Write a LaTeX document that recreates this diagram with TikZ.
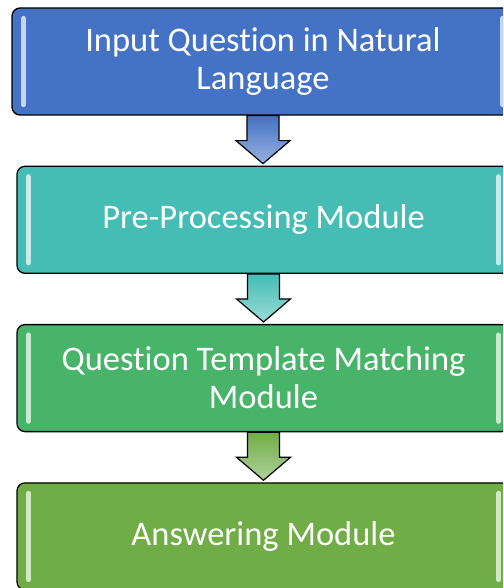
\documentclass[tikz,border=0pt]{standalone}
\usepackage{fontspec}
\setmainfont{Carlito}[Ligatures=NoCommon]
\usetikzlibrary{calc,positioning}
\definecolor{boxblue}{HTML}{4472C4}
\definecolor{boxteal}{HTML}{45BDB5}
\definecolor{boxgreen}{HTML}{48B469}
\definecolor{boxolive}{HTML}{70AD47}
% block arrow from the bottom of #1 to the top of #2, filled with #3
\newcommand{\stagearrow}[3]{%
	\draw[arrowbody,top color=#3,bottom color=#3!55!white] let \p1=(#1.south), \p2=(#2.north) in
	(\x1-16pt,\y1) -- (\x1+16pt,\y1) -- (\x1+16pt,\y2+25pt) -- (\x1+27pt,\y2+25pt)
	-- (\x1,\y2+2pt) -- (\x1-27pt,\y2+25pt) -- (\x1-16pt,\y2+25pt) -- cycle;}

\begin{document}
\begin{tikzpicture}[x=1pt,y=-1pt,
		stage/.style={draw=black,line width=1.3pt,rounded corners=8pt,minimum width=493pt,
			minimum height=107pt,inner sep=0pt,align=center,text=white,
			font=\fontsize{34.5}{38}\selectfont},
		gloss/.style={line width=5pt,line cap=round,draw=#1!30!white},
		arrowbody/.style={draw=black,line width=1.2pt,line join=miter}]
	\useasboundingbox (0,0) rectangle (503,588);
	\clip (0,0) rectangle (503,588);
	
	\node[stage,fill=boxblue,minimum width=502pt] (input) at (263,61.5) {Input Question in Natural\\Language};
	\node[stage,fill=boxteal,below=50pt of input,xshift=0.5pt] (prep) {Pre-Processing Module};
	\node[stage,fill=boxgreen,below=50pt of prep] (match) {Question Template Matching\\Module};
	\node[stage,fill=boxolive,below=50pt of match] (answer) {Answering Module};
	
	% light strips along the inner sides
	\foreach \n/\col in {input/boxblue,prep/boxteal,match/boxgreen,answer/boxolive} {
		\draw[gloss=\col] ([xshift=12pt,yshift=-11pt]\n.north west) -- ([xshift=12pt,yshift=11pt]\n.south west);
		\draw[gloss=\col] ([xshift=-12pt,yshift=-11pt]\n.north east) -- ([xshift=-12pt,yshift=11pt]\n.south east);
	}
	
	\stagearrow{input}{prep}{boxblue}
	\stagearrow{prep}{match}{boxteal}
	\stagearrow{match}{answer}{boxolive}
\end{tikzpicture}
\end{document}
